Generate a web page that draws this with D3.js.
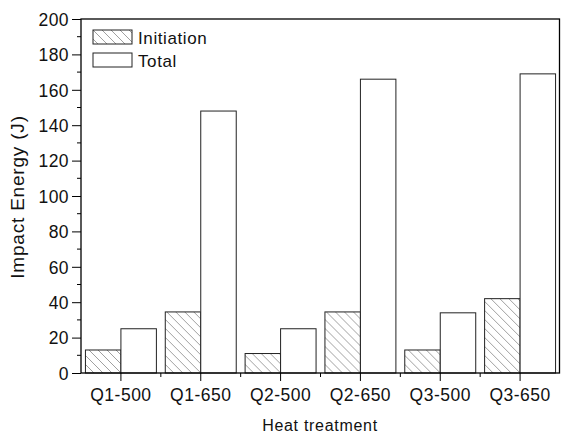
<!DOCTYPE html>
<html>
<head>
<meta charset="utf-8">
<script src="https://cdn.jsdelivr.net/npm/d3@7"></script>
<style>
  body { margin: 0; background: #fff; }
  text { font-family: Arial, "Liberation Sans", sans-serif; fill: #111; }
</style>
</head>
<body>
<div id="chart"></div>
<script>
// data
var categories = ["Q1-500", "Q1-650", "Q2-500", "Q2-650", "Q3-500", "Q3-650"];
var initiation = [13, 34.5, 11, 34.5, 13, 42];
var total = [25, 148, 25, 166, 34, 169];
var seriesNames = ["Initiation", "Total"];
var yTicks = [0, 20, 40, 60, 80, 100, 120, 140, 160, 180, 200];

var W = 561, H = 435;
var margin = {left: 81, right: 1, top: 19, bottom: 62};

var svg = d3.select("#chart").append("svg")
    .attr("width", W)
    .attr("height", H);

// hatch for the Initiation bars
var defs = svg.append("defs");
var pat = defs.append("pattern")
    .attr("id", "hatch")
    .attr("patternUnits", "userSpaceOnUse")
    .attr("width", 9)
    .attr("height", 9);
pat.append("rect").attr("width", 9).attr("height", 9).attr("fill", "#fff");
pat.append("path")
    .attr("d", "M0,0L9,9M-2,7L2,11M7,-2L11,2")
    .attr("stroke", "#888")
    .attr("stroke-width", 0.8);

var x = d3.scaleBand()
    .domain(categories)
    .range([margin.left, W - margin.right])
    .paddingInner(0)
    .paddingOuter(0);

var xSub = d3.scaleBand()
    .domain(seriesNames)
    .range([0, x.bandwidth()])
    .paddingInner(0)
    .paddingOuter(0.125);

var y = d3.scaleLinear()
    .domain([0, 200])
    .range([H - margin.bottom, margin.top]);

var rows = categories.map(function(c, i) {
    return {cat: c, vals: [
        {name: "Initiation", v: initiation[i]},
        {name: "Total", v: total[i]}
    ]};
});

// bars
var g = svg.selectAll(".grp")
    .data(rows)
    .enter().append("g")
    .attr("transform", function(d) { return "translate(" + x(d.cat) + ",0)"; });

g.selectAll("rect")
    .data(function(d) { return d.vals; })
    .enter().append("rect")
    .attr("x", function(d) { return xSub(d.name); })
    .attr("y", function(d) { return y(d.v); })
    .attr("width", xSub.bandwidth())
    .attr("height", function(d) { return y(0) - y(d.v); })
    .attr("fill", function(d) { return d.name == "Initiation" ? "url(#hatch)" : "#fff"; })
    .attr("stroke", "#222")
    .attr("stroke-width", 1);

// frame
svg.append("rect")
    .attr("x", margin.left)
    .attr("y", margin.top)
    .attr("width", W - margin.right - margin.left - 0.5)
    .attr("height", y(0) - margin.top)
    .attr("fill", "none")
    .attr("stroke", "#000")
    .attr("stroke-width", 1.3);

// y axis
var yAxis = d3.axisLeft(y)
    .tickValues(yTicks)
    .tickSize(9)
    .tickSizeOuter(0);
var ya = svg.append("g")
    .attr("transform", "translate(" + margin.left + ",0)")
    .call(yAxis);
ya.select(".domain").remove();
ya.selectAll("text")
    .style("font-size", "17.5px")
    .style("letter-spacing", "0.4px")
    .attr("x", -12)
    .attr("dy", "0.36em");

var minorY = d3.range(10, 200, 20);
svg.selectAll(".ymin")
    .data(minorY)
    .enter().append("line")
    .attr("x1", margin.left - 4)
    .attr("x2", margin.left)
    .attr("y1", function(d) { return y(d); })
    .attr("y2", function(d) { return y(d); })
    .attr("stroke", "#000");

// x axis
var xAxis = d3.axisBottom(x)
    .tickSize(8)
    .tickSizeOuter(0);
var xa = svg.append("g")
    .attr("transform", "translate(0," + y(0) + ")")
    .call(xAxis);
xa.select(".domain").remove();
xa.selectAll("text")
    .style("font-size", "17.5px")
    .style("letter-spacing", "0.5px")
    .attr("y", 28)
    .attr("dy", 0);

svg.selectAll(".xmin")
    .data(categories.slice(1))
    .enter().append("line")
    .attr("x1", function(d) { return x(d); })
    .attr("x2", function(d) { return x(d); })
    .attr("y1", y(0))
    .attr("y2", y(0) + 4)
    .attr("stroke", "#000");

// axis titles
svg.append("text")
    .attr("transform", "translate(24," + 197 + ") rotate(-90)")
    .attr("text-anchor", "middle")
    .style("font-size", "19px")
    .style("letter-spacing", "0.8px")
    .text("Impact Energy (J)");

svg.append("text")
    .attr("x", 320)
    .attr("y", 431)
    .attr("text-anchor", "middle")
    .style("font-size", "16px")
    .style("letter-spacing", "0.7px")
    .text("Heat treatment");

// legend
var leg = svg.append("g").attr("transform", "translate(93,30)");
seriesNames.forEach(function(n, i) {
    leg.append("rect")
        .attr("x", 0)
        .attr("y", i * 23)
        .attr("width", 39)
        .attr("height", 14)
        .attr("fill", n == "Initiation" ? "url(#hatch)" : "#fff")
        .attr("stroke", "#222");
    leg.append("text")
        .attr("x", 45)
        .attr("y", i * 23 + 14)
        .style("font-size", "17px")
        .style("letter-spacing", "0.6px")
        .text(n);
});
</script>
</body>
</html>
